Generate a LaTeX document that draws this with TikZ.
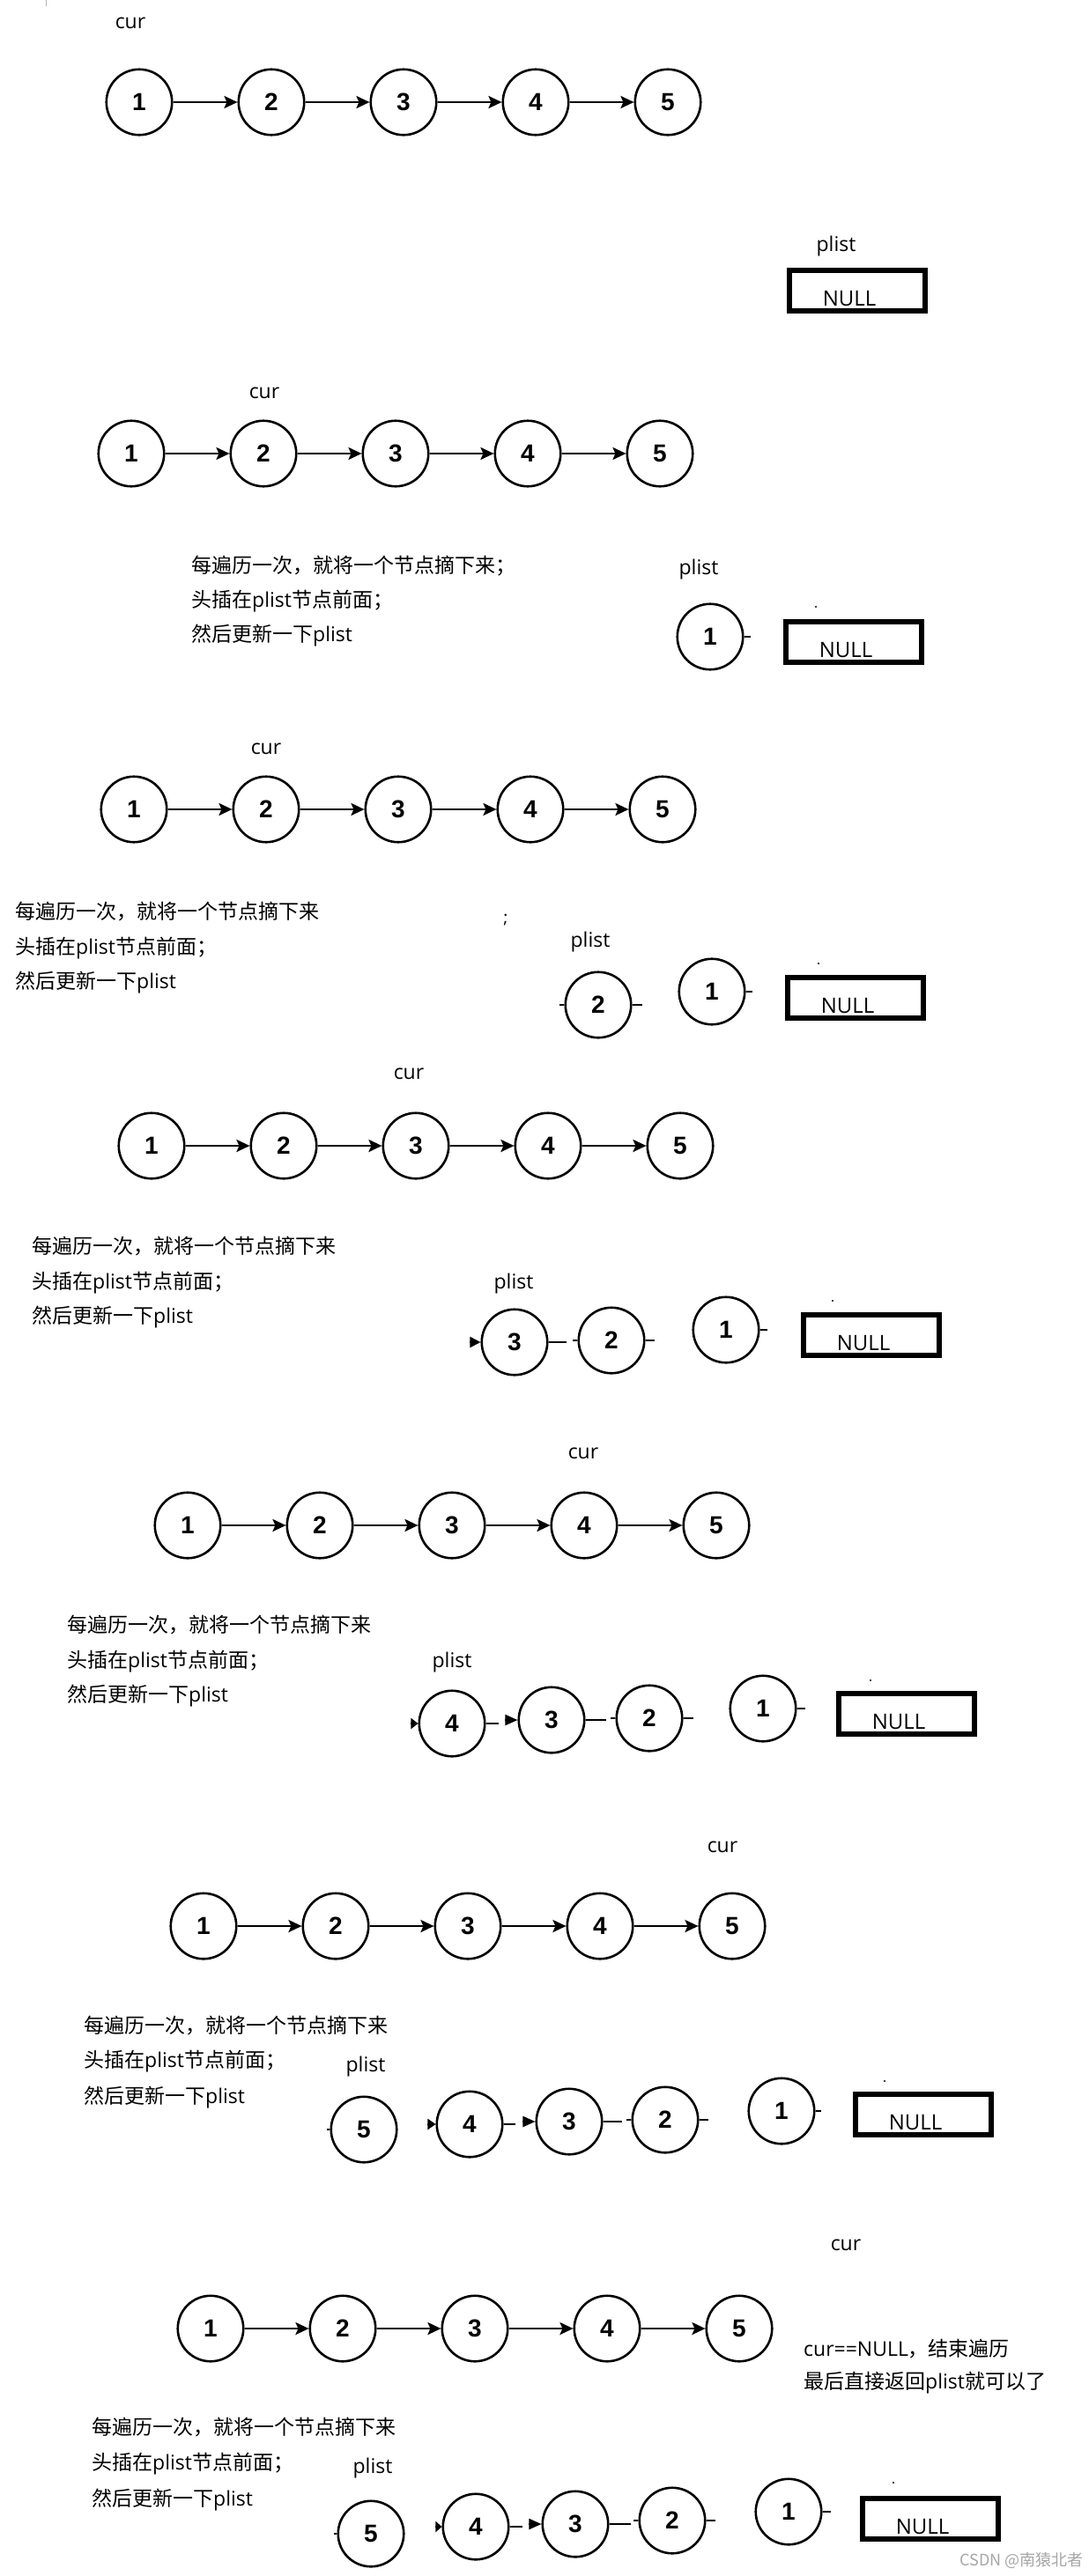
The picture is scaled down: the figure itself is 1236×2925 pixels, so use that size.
\documentclass[tikz,border=0pt]{standalone}
\usepackage{fontspec}
\setmainfont{Open Sans}
\newfontfamily\cjkfont{Noto Sans CJK SC}
\newfontfamily\numfont{Liberation Sans}
\usetikzlibrary{arrows.meta,calc}
\newcommand\zh[1]{{\cjkfont #1}}
\newcommand\chainrow[3]{%
  \foreach \i in {1,...,5} {\node[lnode] (#1\i) at ({#2+150*(\i-1)},#3) {\i};}
  \foreach \i in {1,...,4} {\pgfmathtruncatemacro\j{\i+1}\draw[link] (#1\i) -- (#1\j);}
}
\begin{document}
\begin{tikzpicture}[x=1pt,y=-1pt,
  lnode/.style={circle, draw, line width=2.6pt, minimum size=74.5pt, inner sep=0pt,
    font=\numfont\bfseries\fontsize{28}{28}\selectfont},
  link/.style={line width=2.5pt, -{Stealth[length=15pt,width=14pt,inset=3pt]}},
  stub/.style={line width=2.5pt},
  head/.style={line width=2pt, -{Triangle[length=#1,width=12pt]}},
  lbl/.style={font=\fontsize{23}{23}\selectfont, inner sep=0pt, anchor=base},
  note/.style={font=\fontsize{23}{23}\selectfont, inner sep=0pt, anchor=base west},
  nullbox/.style={draw, line width=6pt, minimum width=154pt, minimum height=46pt, inner sep=0pt},
  nulltxt/.style={font=\fontsize{24}{24}\selectfont, inner sep=0pt, anchor=base},
  dotmark/.style={fill=black}
]
\path[use as bounding box, fill=white] (0,0) rectangle (1236,2925);
\draw[gray!60, line width=0.8pt] (52,0) -- (52,7);

% ---------- row 1
\node[lbl] (cur1) at (148,33) {cur};
\chainrow{a}{158}{116}

% ---------- row 2
\node[lbl] (pl2) at (949,285) {plist};
\node[nullbox] (nb2) at (973,330) {};
\node[nulltxt] (nt2) at ($(nb2.south)+(-9,-9)$) {NULL};

% ---------- row 3
\node[lbl] (cur3) at (300,452) {cur};
\chainrow{b}{149}{515}
\node[note] (t3a) at (217,650) {\zh{每遍历一次，就将一个节点摘下来；}};
\node[note] (t3b) at (217,689) {\zh{头插在}plist\zh{节点前面；}};
\node[note] (t3c) at (217,728) {\zh{然后更新一下}plist};
\node[lbl] (pl3) at (793,652) {plist};
\node[lnode] (p3a) at (806,723) {1};
\draw[stub] (p3a.east) -- ++(7,0);
\node[nullbox] (nb3) at (969,729) {};
\node[nulltxt] (nt3) at ($(nb3.south)+(-9,-9)$) {NULL};
\fill[dotmark] (926,689) circle (1.1pt);

% ---------- row 4
\node[lbl] (cur4) at (302,856) {cur};
\chainrow{c}{152}{919}
\node[note] (t4a) at (17,1043) {\zh{每遍历一次，就将一个节点摘下来}};
\node[note] (t4b) at (17,1083) {\zh{头插在}plist\zh{节点前面；}};
\node[note] (t4c) at (17,1122) {\zh{然后更新一下}plist};
\node[lbl, font=\fontsize{19}{19}\selectfont] (semi4) at (574,1048) {;};
\node[lbl] (pl4) at (670,1075) {plist};
\node[lnode] (p4b) at (679,1141) {2};
\draw[stub] (p4b.west) -- ++(-5,0);
\draw[stub] (p4b.east) -- ++(11,0);
\node[lnode] (p4a) at (808,1126) {1};
\draw[stub] (p4a.east) -- ++(7,0);
\node[nullbox] (nb4) at (971,1133) {};
\node[nulltxt] (nt4) at ($(nb4.south)+(-9,-9)$) {NULL};
\fill[dotmark] (929,1094) circle (1.1pt);

% ---------- row 5
\node[lbl] (cur5) at (464,1225) {cur};
\chainrow{d}{172}{1301}
\node[note] (t5a) at (36,1423) {\zh{每遍历一次，就将一个节点摘下来}};
\node[note] (t5b) at (36,1463) {\zh{头插在}plist\zh{节点前面；}};
\node[note] (t5c) at (36,1502) {\zh{然后更新一下}plist};
\node[lbl] (pl5) at (583,1463) {plist};
\node[lnode] (p5c) at (584,1524) {3};
\draw[head=12pt] ($(p5c.west)+(-12,0)$) -- (p5c.west);
\draw[stub] (p5c.east) -- ++(20,0);
\node[lnode] (p5b) at (694,1522) {2};
\draw[stub] (p5b.west) -- ++(-5,0);
\draw[stub] (p5b.east) -- ++(10,0);
\node[lnode] (p5a) at (824,1510) {1};
\draw[stub] (p5a.east) -- ++(8,0);
\node[nullbox] (nb5) at (989,1516) {};
\node[nulltxt] (nt5) at ($(nb5.south)+(-9,-9)$) {NULL};
\fill[dotmark] (945,1477) circle (1.1pt);

% ---------- row 6
\node[lbl] (cur6) at (662,1656) {cur};
\chainrow{e}{213}{1732}
\node[note] (t6a) at (76,1853) {\zh{每遍历一次，就将一个节点摘下来}};
\node[note] (t6b) at (76,1893) {\zh{头插在}plist\zh{节点前面；}};
\node[note] (t6c) at (76,1932) {\zh{然后更新一下}plist};
\node[lbl] (pl6) at (513,1893) {plist};
\node[lnode] (p6d) at (513,1957) {4};
\draw[head=8pt] ($(p6d.west)+(-8,0)$) -- (p6d.west);
\draw[stub] (p6d.east) -- ++(14,0);
\node[lnode] (p6c) at (626,1953) {3};
\draw[head=14pt] ($(p6c.west)+(-14,0)$) -- (p6c.west);
\draw[stub] (p6c.east) -- ++(23,0);
\node[lnode] (p6b) at (737,1951) {2};
\draw[stub] (p6b.west) -- ++(-5,0);
\draw[stub] (p6b.east) -- ++(11,0);
\node[lnode] (p6a) at (866,1940) {1};
\draw[stub] (p6a.east) -- ++(9,0);
\node[nullbox] (nb6) at (1029,1946) {};
\node[nulltxt] (nt6) at ($(nb6.south)+(-9,-9)$) {NULL};
\fill[dotmark] (988,1908) circle (1.1pt);

% ---------- row 7
\node[lbl] (cur7) at (820,2103) {cur};
\chainrow{f}{231}{2187}
\node[note] (t7a) at (95,2308) {\zh{每遍历一次，就将一个节点摘下来}};
\node[note] (t7b) at (95,2347) {\zh{头插在}plist\zh{节点前面；}};
\node[note] (t7c) at (95,2388) {\zh{然后更新一下}plist};
\node[lbl] (pl7) at (415,2352) {plist};
\node[lnode] (p7e) at (413,2418) {5};
\draw[stub] (p7e.west) -- ++(-3,0);
\node[lnode] (p7d) at (533,2412) {4};
\draw[head=9pt] ($(p7d.west)+(-9,0)$) -- (p7d.west);
\draw[stub] (p7d.east) -- ++(13,0);
\node[lnode] (p7c) at (646,2409) {3};
\draw[head=14pt] ($(p7c.west)+(-14,0)$) -- (p7c.west);
\draw[stub] (p7c.east) -- ++(21,0);
\node[lnode] (p7b) at (755,2407) {2};
\draw[stub] (p7b.west) -- ++(-5,0);
\draw[stub] (p7b.east) -- ++(10,0);
\node[lnode] (p7a) at (887,2397) {1};
\draw[stub] (p7a.east) -- ++(6,0);
\node[nullbox] (nb7) at (1048,2401) {};
\node[nulltxt] (nt7) at ($(nb7.south)+(-9,-9)$) {NULL};
\fill[dotmark] (1004,2363) circle (1.1pt);

% ---------- row 8
\node[lbl] (cur8) at (960,2555) {cur};
\chainrow{g}{239}{2644}
\node[note] (t8r1) at (912,2675) {cur==NULL\zh{，结束遍历}};
\node[note] (t8r2) at (912,2712) {\zh{最后直接返回}plist\zh{就可以了}};
\node[note] (t8a) at (104,2764) {\zh{每遍历一次，就将一个节点摘下来}};
\node[note] (t8b) at (104,2804) {\zh{头插在}plist\zh{节点前面；}};
\node[note] (t8c) at (104,2845) {\zh{然后更新一下}plist};
\node[lbl] (pl8) at (423,2808) {plist};
\node[lnode] (p8e) at (421,2877) {5};
\draw[stub] (p8e.west) -- ++(-3,0);
\node[lnode] (p8d) at (540,2869) {4};
\draw[head=7pt] ($(p8d.west)+(-7,0)$) -- (p8d.west);
\draw[stub] (p8d.east) -- ++(14,0);
\node[lnode] (p8c) at (653,2866) {3};
\draw[head=14pt] ($(p8c.west)+(-14,0)$) -- (p8c.west);
\draw[stub] (p8c.east) -- ++(24,0);
\node[lnode] (p8b) at (763,2862) {2};
\draw[stub] (p8b.west) -- ++(-5,0);
\draw[stub] (p8b.east) -- ++(10,0);
\node[lnode] (p8a) at (895,2852) {1};
\draw[stub] (p8a.east) -- ++(9,0);
\node[nullbox] (nb8) at (1056,2860) {};
\node[nulltxt] (nt8) at ($(nb8.south)+(-9,-9)$) {NULL};
\fill[dotmark] (1014,2819) circle (1.1pt);
\node[inner sep=0pt, anchor=base east, text=gray!70, font=\cjkfont\fontsize{18}{18}\selectfont] (wm) at (1230,2913) {CSDN @南猿北者};
\end{tikzpicture}
\end{document}
